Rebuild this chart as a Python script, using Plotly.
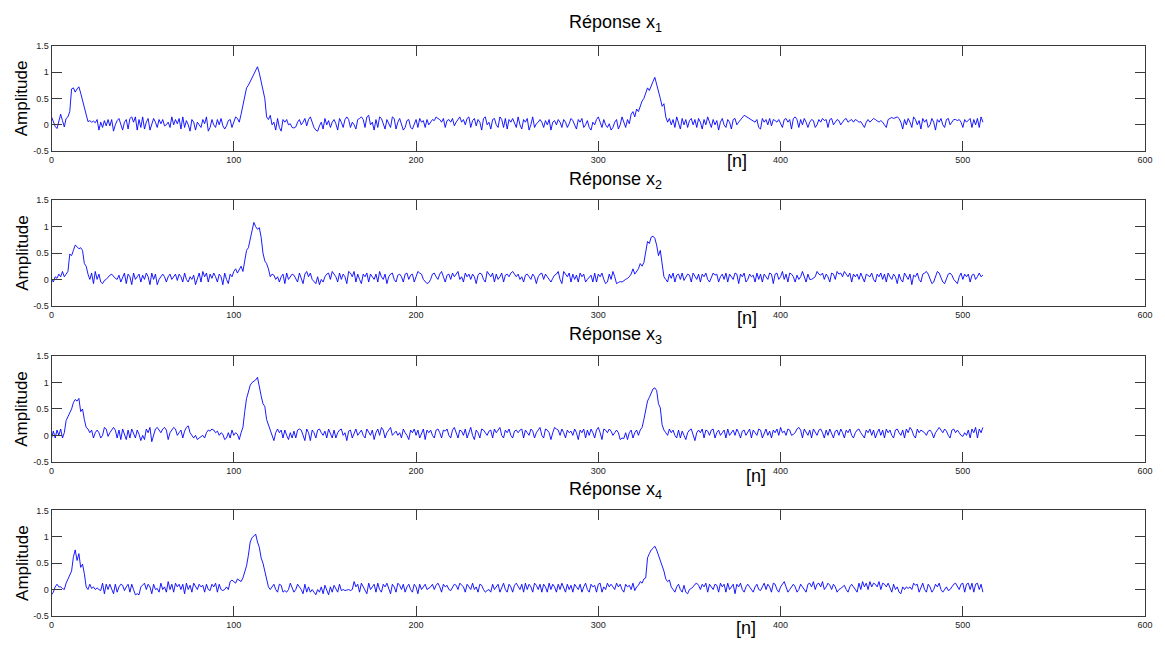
import plotly.graph_objects as go

# ---------------- data ----------------
x1 = [
    0.15, 0.05, -0.03, -0.07, 0.1, 0.2, 0.08, -0.04, 0.12, 0.15, 0.25, 0.68, 0.7, 0.62, 0.68, 0.72,
    0.6, 0.45, 0.3, 0.2, 0.06, 0.08, 0.05, 0.07, 0.04, 0.1, -0.1, 0.05, -0.05, 0.08, -0.02, 0.1,
    -0.02, 0.1, -0.12, 0.0, 0.08, 0.12, 0.0, -0.1, 0.05, 0.1, -0.08, 0.12, 0.15, 0.05, 0.15, -0.1,
    0.1, -0.05, 0.15, -0.08, 0.05, 0.12, -0.1, 0.0, 0.12, 0.05, -0.05, 0.1, 0.02, 0.1, -0.02, 0.0,
    0.05, -0.05, 0.15, 0.0, 0.1, 0.02, 0.12, -0.08, 0.15, -0.05, 0.08, 0.0, -0.12, 0.1, 0.05, -0.1,
    0.05, 0.0, -0.05, 0.1, 0.02, 0.15, -0.12, -0.05, 0.1, 0.0, -0.05, 0.1, 0.0, 0.12, -0.02, -0.08,
    -0.02, 0.08, 0.1, -0.05, 0.05, 0.15, 0.12, 0.05, 0.2, 0.35, 0.55, 0.7, 0.75, 0.82, 0.88, 0.95,
    1.02, 1.1, 0.98, 0.8, 0.65, 0.5, 0.15, 0.1, 0.18, 0.0, 0.05, -0.1, 0.12, -0.05, -0.12, 0.1,
    0.05, 0.1, 0.0, 0.02, -0.05, -0.06, -0.04, 0.05, 0.1, 0.0, 0.05, 0.12, -0.02, 0.1, 0.15, 0.05,
    -0.05, -0.1, -0.12, -0.02, 0.05, -0.08, 0.12, 0.0, 0.08, -0.05, 0.05, 0.1, 0.02, -0.1, 0.12, 0.05,
    -0.05, 0.1, 0.15, 0.1, -0.05, 0.05, 0.0, -0.08, 0.1, 0.12, 0.15, 0.1, -0.05, 0.15, 0.18, 0.0,
    0.05, -0.1, 0.1, -0.05, 0.15, 0.12, 0.0, -0.08, 0.1, 0.02, -0.05, 0.15, 0.12, -0.08, 0.05, 0.12,
    0.0, -0.1, -0.05, 0.08, 0.1, -0.05, -0.08, 0.02, 0.1, -0.05, 0.12, 0.05, 0.08, -0.05, 0.1, 0.0,
    0.05, 0.1, 0.08, 0.15, 0.12, 0.1, 0.05, 0.12, -0.05, 0.08, 0.1, 0.05, 0.12, -0.02, 0.05, 0.1,
    0.15, 0.05, 0.1, 0.0, 0.12, 0.15, -0.05, 0.08, 0.12, -0.02, 0.1, 0.05, -0.1, 0.12, 0.15, 0.0,
    0.05, -0.08, 0.1, 0.12, 0.0, -0.05, 0.15, 0.1, -0.05, 0.12, -0.08, 0.1, 0.05, 0.12, 0.05, -0.05,
    0.15, 0.0, -0.08, 0.1, 0.05, 0.12, -0.1, 0.0, 0.15, -0.05, 0.02, 0.05, 0.1, 0.05, -0.05, 0.08,
    0.0, 0.1, -0.1, 0.05, 0.08, 0.0, 0.1, 0.05, -0.05, 0.1, 0.05, -0.05, 0.02, 0.12, 0.08, 0.0,
    -0.08, 0.1, 0.05, 0.12, -0.05, 0.0, 0.08, -0.05, -0.1, 0.05, 0.0, 0.1, 0.15, 0.05, -0.05, 0.1,
    0.0, -0.05, 0.02, -0.1, -0.05, 0.05, 0.1, -0.08, 0.0, 0.15, 0.05, -0.05, 0.1, 0.02, 0.2, 0.25,
    0.15, 0.3, 0.25, 0.35, 0.45, 0.5, 0.6, 0.7, 0.65, 0.75, 0.82, 0.9, 0.78, 0.65, 0.5, 0.35,
    0.4, 0.15, 0.05, 0.12, 0.0, 0.1, -0.05, 0.15, 0.05, -0.08, 0.12, 0.0, 0.1, -0.05, 0.08, 0.12,
    0.0, 0.1, -0.05, 0.12, 0.05, -0.08, 0.1, 0.0, 0.15, 0.05, -0.05, 0.1, 0.0, 0.08, -0.1, 0.05,
    0.12, 0.0, -0.05, 0.1, 0.05, -0.08, 0.1, 0.12, 0.0, 0.05, 0.1, 0.15, 0.18, 0.16, 0.14, 0.12,
    0.1, 0.08, 0.05, 0.1, -0.05, -0.08, 0.12, 0.05, 0.1, 0.0, 0.12, -0.02, 0.1, 0.08, 0.05, 0.1,
    0.02, -0.05, 0.1, 0.12, 0.05, 0.1, -0.08, 0.12, 0.15, 0.1, -0.05, 0.1, 0.0, 0.12, 0.05, -0.05,
    0.05, 0.1, 0.08, -0.05, 0.0, 0.1, 0.05, 0.12, 0.08, 0.1, -0.05, 0.1, 0.12, 0.0, 0.05, 0.1,
    0.08, 0.0, 0.05, 0.1, 0.12, 0.05, 0.08, 0.1, 0.05, 0.1, 0.08, 0.05, 0.06, 0.0, -0.05, 0.05,
    0.1, 0.05, 0.08, 0.12, 0.1, 0.08, 0.05, 0.08, 0.05, 0.0, -0.05, 0.1, 0.12, 0.14, 0.12, 0.13,
    0.15, 0.12, 0.05, -0.08, 0.1, 0.0, 0.12, 0.05, -0.05, 0.15, 0.1, 0.0, 0.08, -0.08, 0.12, 0.05,
    0.1, -0.05, 0.0, 0.12, 0.05, -0.1, 0.1, 0.05, 0.12, 0.0, -0.05, 0.1, 0.12, 0.0, 0.05, 0.1,
    0.1, 0.08, 0.1, 0.05, -0.05, 0.1, 0.05, 0.08, 0.12, -0.05, 0.1, 0.0, 0.12, -0.05, 0.15, 0.05,
]

x2 = [
    0.0, -0.05, 0.05, 0.02, 0.1, 0.05, 0.15, 0.05, 0.1, 0.15, 0.48, 0.45, 0.55, 0.65, 0.62, 0.58,
    0.6, 0.55, 0.3, 0.25, 0.1, 0.0, 0.12, -0.08, 0.15, 0.0, 0.1, -0.05, -0.08, -0.02, 0.0, 0.05,
    0.08, 0.1, 0.05, 0.02, 0.0, 0.08, -0.05, 0.05, 0.12, -0.08, 0.1, 0.05, -0.1, 0.12, 0.0, 0.05,
    0.1, -0.05, 0.08, 0.0, 0.12, 0.05, -0.1, 0.12, 0.0, 0.1, -0.1, 0.0, 0.05, 0.1, 0.05, -0.05,
    0.05, 0.1, 0.0, 0.05, 0.1, -0.02, 0.1, 0.05, -0.05, 0.12, 0.0, -0.05, 0.05, 0.0, 0.08, -0.1,
    0.0, 0.12, -0.05, 0.15, 0.05, 0.12, -0.05, 0.1, 0.02, 0.12, 0.05, -0.05, 0.1, 0.05, -0.1, 0.12,
    0.0, -0.08, 0.1, 0.05, 0.15, 0.2, 0.12, 0.2, 0.25, 0.15, 0.35, 0.55, 0.6, 0.75, 0.95, 1.08,
    1.0, 0.95, 0.98, 0.8, 0.5, 0.35, 0.3, 0.2, 0.05, 0.1, 0.08, 0.0, 0.05, -0.05, 0.05, 0.1,
    -0.08, 0.12, 0.0, 0.05, 0.1, 0.08, 0.0, -0.05, 0.12, 0.0, -0.08, 0.1, 0.15, 0.05, 0.12, 0.0,
    -0.05, -0.08, 0.05, -0.1, 0.0, -0.05, 0.05, 0.1, 0.12, 0.0, 0.15, 0.1, 0.05, -0.05, 0.12, 0.0,
    0.1, 0.05, -0.08, 0.15, 0.12, 0.05, 0.15, -0.05, 0.1, 0.0, -0.08, 0.1, 0.05, 0.12, -0.05, 0.1,
    0.05, 0.0, 0.1, -0.05, 0.15, 0.05, 0.0, 0.1, -0.08, 0.05, 0.1, 0.12, 0.0, -0.05, 0.08, 0.1,
    0.05, -0.05, 0.1, 0.12, 0.0, 0.08, 0.1, -0.05, 0.05, 0.15, 0.12, 0.1, 0.0, -0.05, -0.08, -0.06,
    0.0, 0.1, 0.12, 0.05, 0.0, 0.1, 0.15, 0.05, -0.05, 0.08, 0.1, 0.0, 0.12, 0.05, 0.1, 0.15,
    0.0, 0.05, -0.05, 0.12, 0.05, 0.1, 0.0, 0.1, 0.05, -0.08, 0.08, 0.12, 0.1, 0.0, -0.05, 0.15,
    0.1, 0.05, 0.12, -0.05, 0.1, 0.0, 0.05, 0.12, -0.05, 0.08, 0.1, 0.05, 0.12, 0.15, 0.1, 0.05,
    0.1, 0.0, 0.05, -0.05, 0.08, 0.1, 0.05, 0.0, 0.1, 0.05, -0.08, 0.05, 0.1, 0.12, 0.0, 0.1,
    0.05, 0.0, -0.05, 0.02, 0.08, 0.1, 0.15, 0.0, -0.08, 0.15, 0.1, 0.05, 0.12, -0.05, 0.1, 0.0,
    0.08, -0.05, 0.12, 0.05, 0.1, -0.05, 0.0, 0.05, 0.08, -0.05, 0.12, -0.05, 0.1, 0.05, 0.12, 0.0,
    -0.08, -0.05, 0.1, 0.0, 0.15, 0.05, -0.08, -0.06, -0.04, -0.05, -0.02, 0.0, 0.02, 0.05, 0.1, 0.2,
    0.1, 0.15, 0.2, 0.3, 0.25, 0.32, 0.55, 0.72, 0.68, 0.8, 0.82, 0.78, 0.65, 0.45, 0.55, 0.3,
    0.05, 0.0, -0.05, 0.1, 0.02, 0.12, -0.05, 0.08, 0.1, 0.0, 0.12, -0.02, 0.05, 0.1, 0.08, -0.05,
    0.12, 0.05, 0.0, 0.1, -0.05, 0.1, 0.05, 0.12, 0.0, -0.05, 0.05, 0.12, 0.08, 0.1, -0.05, 0.05,
    0.1, 0.0, 0.12, -0.05, 0.1, 0.05, 0.0, 0.12, 0.1, -0.08, 0.1, 0.05, 0.12, -0.05, 0.0, 0.1,
    0.05, 0.08, -0.05, 0.12, 0.0, 0.1, -0.05, 0.1, 0.05, 0.0, 0.12, 0.1, -0.08, 0.1, 0.12, 0.0,
    0.05, 0.15, 0.0, 0.1, -0.05, 0.12, 0.1, 0.05, -0.05, 0.08, 0.0, 0.05, 0.15, 0.05, -0.05, 0.1,
    0.0, 0.0, 0.02, 0.05, 0.15, 0.1, 0.08, 0.12, 0.0, 0.1, 0.05, -0.05, 0.12, 0.1, 0.0, 0.15,
    0.1, 0.12, 0.05, 0.15, 0.1, 0.05, 0.12, -0.05, 0.1, 0.05, 0.1, 0.0, 0.12, 0.05, -0.05, 0.1,
    0.08, 0.05, 0.12, 0.0, -0.05, 0.1, 0.05, 0.12, 0.0, 0.1, -0.05, 0.12, 0.05, 0.0, 0.1, 0.05,
    -0.08, 0.1, 0.0, -0.05, 0.12, 0.05, 0.0, 0.1, -0.1, 0.08, 0.05, 0.12, 0.0, -0.05, 0.1, 0.12,
    0.15, 0.1, 0.0, -0.08, -0.05, 0.05, 0.15, 0.12, 0.05, -0.05, -0.08, 0.0, 0.1, 0.12, 0.08, 0.0,
    -0.05, -0.08, 0.05, 0.12, 0.0, 0.1, 0.05, 0.1, -0.05, 0.08, 0.1, 0.0, 0.05, 0.12, 0.05, 0.08,
]

x3 = [
    -0.05, 0.08, -0.05, 0.1, 0.0, 0.12, -0.05, 0.05, 0.28, 0.35, 0.42, 0.5, 0.62, 0.68, 0.65, 0.7,
    0.45, 0.5, 0.3, 0.15, 0.12, 0.05, 0.1, -0.05, 0.05, 0.1, 0.05, -0.05, 0.0, 0.15, 0.12, -0.02,
    0.05, 0.1, 0.15, 0.1, -0.05, 0.1, -0.08, 0.12, 0.0, -0.08, 0.1, -0.05, 0.12, 0.05, -0.05, 0.1,
    0.02, -0.1, 0.0, -0.08, 0.12, 0.05, 0.15, -0.12, 0.0, 0.12, 0.15, 0.1, 0.05, 0.12, 0.15, 0.1,
    -0.08, 0.05, 0.1, 0.15, 0.12, 0.0, 0.05, 0.1, -0.05, 0.08, 0.15, 0.18, 0.05, 0.0, -0.05, 0.0,
    -0.08, -0.05, -0.02, 0.0, -0.05, 0.05, 0.1, 0.08, 0.12, 0.1, 0.05, 0.08, 0.0, 0.05, 0.02, -0.08,
    -0.05, 0.05, -0.05, 0.1, 0.0, 0.05, 0.02, -0.08, 0.05, 0.15, 0.45, 0.7, 0.82, 0.95, 1.0, 1.02,
    1.05, 1.1, 0.9, 0.75, 0.6, 0.55, 0.3, 0.2, 0.1, 0.0, -0.1, 0.05, 0.12, 0.05, 0.1, -0.05,
    0.1, 0.0, -0.08, 0.05, -0.05, 0.08, -0.05, 0.1, 0.12, 0.1, 0.0, -0.1, 0.12, 0.05, -0.1, 0.1,
    0.05, -0.05, 0.1, 0.12, 0.05, 0.0, 0.08, -0.05, 0.12, 0.05, -0.05, 0.1, -0.05, 0.05, 0.1, 0.12,
    0.0, 0.05, -0.1, 0.08, 0.1, -0.05, 0.05, 0.12, 0.0, 0.05, 0.1, 0.0, -0.05, 0.12, 0.05, 0.0,
    0.1, -0.08, 0.05, 0.12, 0.0, 0.15, 0.1, -0.05, 0.05, 0.1, 0.15, 0.0, 0.05, 0.08, 0.0, 0.05,
    -0.05, 0.12, 0.05, 0.0, -0.08, 0.1, 0.05, 0.12, 0.0, 0.1, -0.05, 0.05, 0.12, -0.08, 0.1, 0.05,
    0.1, 0.0, -0.05, 0.1, 0.12, 0.05, -0.05, 0.1, 0.08, 0.12, 0.0, -0.05, 0.1, 0.15, 0.05, -0.05,
    0.1, 0.08, 0.0, 0.12, -0.05, 0.05, 0.15, 0.0, -0.08, 0.1, 0.05, -0.05, 0.12, 0.1, 0.05, 0.0,
    0.08, 0.1, -0.05, 0.12, 0.05, 0.1, 0.15, 0.0, -0.05, 0.1, 0.05, 0.12, 0.0, -0.05, 0.08, 0.1,
    0.05, 0.1, 0.12, -0.05, 0.1, 0.05, 0.0, 0.12, 0.08, -0.05, 0.05, 0.1, 0.15, 0.0, -0.05, 0.12,
    0.1, 0.05, -0.08, 0.05, 0.15, 0.12, 0.1, 0.0, 0.12, 0.05, -0.05, 0.1, 0.05, 0.08, 0.0, 0.12,
    0.05, -0.08, 0.1, 0.05, 0.12, -0.05, 0.1, 0.0, 0.12, 0.05, -0.05, 0.1, 0.15, 0.05, -0.08, 0.12,
    0.1, 0.05, 0.12, 0.08, 0.0, 0.05, 0.1, 0.05, -0.08, -0.05, -0.06, 0.05, -0.08, 0.05, 0.1, -0.05,
    0.05, 0.1, 0.0, 0.1, 0.15, 0.3, 0.45, 0.65, 0.72, 0.8, 0.88, 0.9, 0.85, 0.6, 0.52, 0.2,
    0.1, 0.05, 0.0, 0.12, 0.05, 0.1, 0.0, -0.05, 0.1, -0.05, 0.08, 0.0, -0.08, 0.05, 0.1, 0.12,
    0.0, -0.1, 0.05, 0.1, 0.05, 0.12, -0.05, 0.1, 0.08, 0.0, 0.1, 0.12, -0.05, 0.05, 0.1, 0.0,
    0.05, 0.1, -0.05, 0.12, 0.0, 0.05, 0.1, 0.0, 0.12, 0.05, -0.05, 0.08, 0.1, 0.0, 0.05, 0.12,
    -0.05, 0.1, 0.05, 0.0, 0.12, 0.1, -0.05, 0.05, 0.12, 0.0, 0.08, -0.05, 0.1, 0.05, 0.12, 0.0,
    0.15, 0.05, 0.08, 0.0, 0.12, 0.1, 0.0, 0.02, 0.05, 0.12, 0.15, 0.1, -0.05, 0.12, 0.05, 0.0,
    0.1, -0.05, 0.12, 0.05, 0.0, 0.1, 0.12, 0.05, -0.05, 0.1, 0.0, 0.12, 0.05, -0.05, 0.08, 0.1,
    0.0, 0.12, 0.05, -0.05, 0.1, 0.05, 0.12, 0.0, -0.05, 0.05, 0.1, 0.12, 0.05, 0.0, -0.05, 0.1,
    0.05, 0.12, 0.0, 0.1, -0.05, 0.05, 0.12, 0.0, 0.1, -0.05, 0.12, 0.05, 0.1, 0.0, -0.05, 0.1,
    0.12, 0.05, 0.0, 0.1, -0.05, 0.12, 0.05, 0.15, 0.1, 0.0, -0.05, 0.12, 0.05, 0.1, 0.08, 0.05,
    0.0, 0.08, 0.1, 0.05, -0.05, 0.05, 0.1, 0.15, 0.1, 0.05, 0.12, 0.08, 0.0, -0.05, 0.1, 0.12,
    0.05, 0.1, 0.05, 0.0, -0.02, 0.05, 0.0, 0.1, -0.05, 0.12, 0.05, 0.15, -0.05, 0.12, 0.05, 0.15,
]

x4 = [
    -0.1, -0.05, 0.05, 0.1, 0.05, 0.05, 0.02, 0.0, 0.12, 0.2, 0.3, 0.35, 0.62, 0.75, 0.55, 0.68,
    0.42, 0.48, 0.3, 0.05, 0.0, 0.1, 0.02, 0.05, 0.0, 0.03, 0.0, -0.02, 0.12, -0.08, 0.1, 0.0,
    0.1, 0.0, -0.08, 0.1, -0.05, 0.05, 0.1, 0.08, -0.02, 0.05, 0.1, -0.05, 0.1, 0.0, -0.1, -0.08,
    -0.1, 0.05, 0.08, 0.12, 0.0, 0.1, 0.05, -0.08, 0.1, 0.0, 0.02, -0.05, 0.12, 0.0, 0.05, -0.05,
    0.15, 0.0, 0.1, -0.05, 0.12, 0.05, 0.1, 0.0, 0.1, -0.08, 0.12, 0.0, 0.08, -0.05, 0.12, 0.05,
    0.0, 0.1, 0.05, 0.08, -0.05, 0.1, 0.0, -0.02, 0.1, 0.05, 0.12, -0.05, 0.1, 0.0, -0.02, 0.0,
    0.05, 0.0, 0.15, 0.18, 0.15, 0.12, 0.2, 0.18, 0.15, 0.22, 0.35, 0.45, 0.65, 0.9, 0.98, 1.02,
    1.05, 0.9, 0.8, 0.6, 0.5, 0.35, 0.2, 0.05, 0.0, 0.05, 0.1, 0.0, -0.05, 0.1, 0.08, -0.05,
    -0.02, -0.05, 0.0, 0.12, 0.05, -0.05, 0.0, 0.1, 0.05, 0.0, -0.08, 0.1, -0.05, 0.05, -0.05, 0.0,
    -0.05, -0.1, 0.0, -0.05, 0.05, -0.08, 0.08, 0.0, -0.1, 0.05, -0.05, 0.08, 0.0, -0.05, 0.1, -0.02,
    0.0, -0.02, -0.01, 0.0, -0.02, 0.0, 0.15, 0.05, 0.1, -0.05, 0.12, 0.05, 0.0, -0.08, 0.12, 0.0,
    0.05, 0.1, -0.05, 0.12, 0.0, -0.05, 0.1, 0.05, 0.12, 0.0, -0.08, 0.1, 0.05, -0.05, 0.12, 0.08,
    0.0, 0.1, -0.05, 0.05, 0.1, 0.0, -0.05, 0.1, 0.05, -0.08, 0.1, 0.0, 0.05, 0.1, 0.0, 0.02,
    0.05, 0.1, 0.0, 0.08, 0.12, 0.05, -0.05, 0.1, 0.05, 0.08, 0.0, -0.02, 0.05, 0.1, 0.08, 0.0,
    0.12, 0.08, 0.05, -0.05, 0.1, 0.05, 0.0, 0.12, 0.0, 0.05, -0.05, 0.1, 0.08, 0.0, -0.05, -0.02,
    0.0, -0.05, 0.1, 0.0, 0.05, 0.1, -0.05, 0.05, 0.12, 0.0, -0.05, 0.1, 0.05, -0.05, 0.08, 0.12,
    0.05, 0.0, 0.1, -0.05, 0.12, 0.0, 0.1, 0.05, -0.05, 0.12, 0.08, 0.0, 0.1, -0.05, 0.1, 0.05,
    -0.05, 0.12, 0.0, 0.1, 0.05, -0.05, 0.1, 0.0, 0.12, 0.05, -0.05, 0.1, 0.0, 0.08, -0.05, 0.1,
    0.05, 0.0, 0.1, -0.05, 0.05, 0.12, 0.0, -0.05, 0.1, 0.05, 0.08, -0.05, 0.1, 0.12, -0.05, 0.05,
    0.0, 0.12, 0.05, 0.1, 0.05, 0.0, 0.12, 0.05, 0.1, 0.0, -0.05, 0.1, 0.05, 0.08, 0.0, 0.12,
    -0.02, 0.05, 0.08, 0.15, 0.12, 0.2, 0.22, 0.6, 0.68, 0.75, 0.78, 0.82, 0.75, 0.65, 0.55, 0.45,
    0.35, 0.2, 0.15, 0.18, 0.05, 0.0, -0.05, 0.05, 0.1, 0.0, -0.05, 0.08, -0.05, -0.08, 0.0, 0.02,
    0.05, 0.1, 0.12, 0.08, 0.0, 0.1, 0.05, 0.12, -0.05, 0.1, 0.05, 0.0, 0.1, 0.08, -0.05, 0.12,
    0.05, 0.1, -0.05, 0.12, 0.0, 0.05, 0.1, -0.08, 0.1, 0.05, 0.12, 0.0, -0.05, 0.05, 0.1, 0.05,
    0.0, -0.05, 0.05, 0.1, 0.0, -0.02, 0.05, 0.12, 0.0, 0.1, 0.05, -0.05, 0.12, 0.1, 0.0, -0.05,
    0.05, 0.1, 0.15, 0.05, -0.05, 0.0, 0.05, 0.1, 0.05, -0.05, 0.0, 0.1, 0.05, 0.0, -0.05, 0.1,
    0.12, 0.05, 0.15, 0.0, 0.1, 0.12, 0.05, 0.15, 0.0, 0.05, 0.12, 0.08, 0.0, 0.1, 0.05, -0.05,
    0.0, 0.02, 0.05, 0.08, 0.0, -0.05, 0.05, 0.1, 0.05, 0.0, -0.05, 0.12, 0.0, 0.15, 0.05, 0.12,
    0.0, 0.15, 0.05, 0.12, 0.1, 0.05, 0.15, 0.0, 0.12, 0.1, 0.05, 0.12, 0.05, -0.05, 0.1, 0.0,
    0.05, -0.05, -0.08, 0.05, 0.0, 0.05, 0.02, 0.05, 0.0, 0.12, 0.08, 0.1, -0.05, 0.05, 0.12, 0.0,
    -0.05, 0.1, 0.05, -0.05, 0.0, 0.1, 0.05, 0.12, 0.0, -0.05, 0.0, 0.05, -0.02, 0.0, 0.05, 0.1,
    0.12, 0.05, 0.0, 0.1, 0.12, -0.05, 0.1, 0.12, 0.0, 0.12, -0.05, 0.1, 0.12, 0.0, 0.1, -0.05,
]

series = [x1, x2, x3, x4]
titles = ["Réponse x<sub>1</sub>", "Réponse x<sub>2</sub>",
          "Réponse x<sub>3</sub>", "Réponse x<sub>4</sub>"]
x_ticks = [0, 100, 200, 300, 400, 500, 600]
y_ticks = [-0.5, 0, 0.5, 1, 1.5]
y_tick_labels = ["-0.5", "0", "0.5", "1", "1.5"]
x_label = "[n]"
y_label = "Amplitude"

# ---------------- layout geometry (pixels) ----------------
W, H = 1165, 647
plot_left, plot_right = 49, 1153
panel_tops = [41.3, 198.3, 356.7, 513.3]
panel_height = 107.2
title_y = [19, 178, 336, 493]
title_x = 618
xlabel_pos = [(741, 158), (751, 318), (760, 478), (750, 633)]
ylabel_x = 19

FONT = "Liberation Sans, Arial, sans-serif"
AXCOL = "#3a3a3a"

fig = go.Figure()
annotations = []
for i, ys in enumerate(series):
    k = "" if i == 0 else str(i + 1)
    fig.add_trace(go.Scatter(
        x=list(range(len(ys))), y=ys, mode="lines",
        line=dict(color="#0000FF", width=0.9),
        xaxis="x" + k, yaxis="y" + k, showlegend=False, hoverinfo="skip"))
    top = panel_tops[i]
    bot = top + panel_height
    dom_y = [1 - bot / H, 1 - top / H]
    fig.layout["xaxis" + k] = dict(
        domain=[plot_left / W, plot_right / W], range=[0, 600],
        anchor="y" + k, tickvals=x_ticks, ticktext=[str(v) for v in x_ticks],
        showline=True, linecolor=AXCOL, linewidth=1, mirror="ticks",
        ticks="inside", ticklen=10, tickcolor=AXCOL, tickwidth=1,
        showgrid=False, zeroline=False,
        tickfont=dict(family=FONT, size=9, color="#222"))
    fig.layout["yaxis" + k] = dict(
        domain=dom_y, range=[-0.5, 1.5], anchor="x" + k,
        tickvals=y_ticks, ticktext=y_tick_labels,
        showline=True, linecolor=AXCOL, linewidth=1, mirror="ticks",
        ticks="inside", ticklen=10, tickcolor=AXCOL, tickwidth=1,
        showgrid=False, zeroline=False,
        tickfont=dict(family=FONT, size=9, color="#222"))
    annotations.append(dict(
        text=titles[i], x=title_x / W, y=1 - title_y[i] / H,
        xref="paper", yref="paper", showarrow=False,
        xanchor="center", yanchor="middle",
        font=dict(family=FONT, size=18, color="#000")))
    annotations.append(dict(
        text=y_label, x=ylabel_x / W, y=1 - (top + panel_height / 2) / H,
        xref="paper", yref="paper", showarrow=False, textangle=-90,
        xanchor="center", yanchor="middle",
        font=dict(family=FONT, size=17, color="#000")))
    annotations.append(dict(
        text=x_label, x=xlabel_pos[i][0] / W, y=1 - xlabel_pos[i][1] / H,
        xref="paper", yref="paper", showarrow=False,
        xanchor="center", yanchor="middle",
        font=dict(family=FONT, size=18, color="#000")))

fig.update_layout(
    width=W, height=H, autosize=False,
    margin=dict(l=0, r=0, t=0, b=0),
    paper_bgcolor="white", plot_bgcolor="white",
    annotations=annotations)

fig.write_html(
    "out.html",
    config={"displayModeBar": False},
    post_script="document.body.style.margin='0';document.body.style.overflow='hidden';")
